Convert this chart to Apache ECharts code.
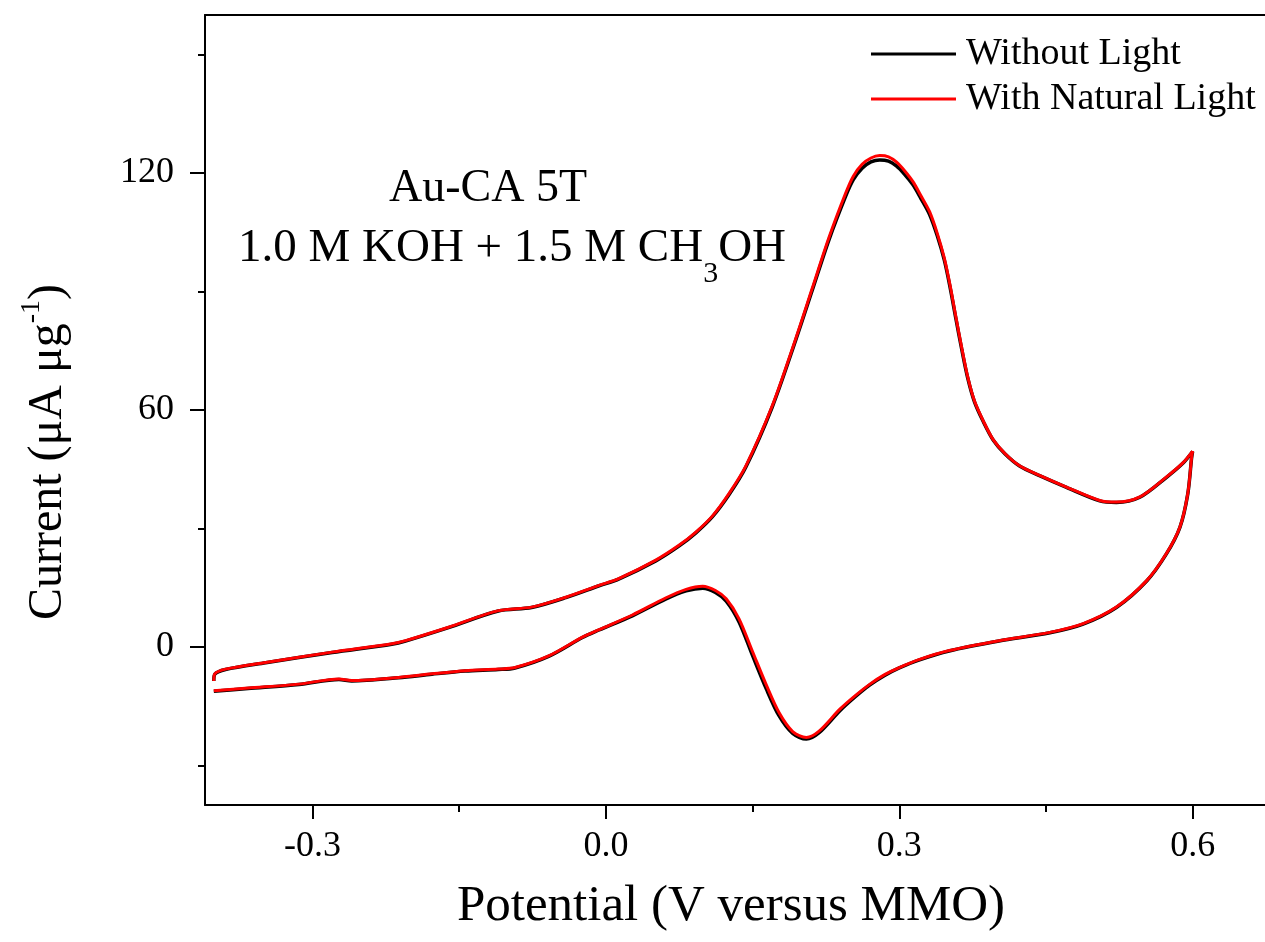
<!DOCTYPE html>
<html>
<head>
<meta charset="utf-8">
<script src="https://cdn.jsdelivr.net/npm/echarts@6/dist/echarts.min.js"></script>
<style>
html,body{margin:0;padding:0;background:#fff;}
#chart{width:1265px;height:942px;}
</style>
</head>
<body>
<div id="chart"></div>
<script>
// ---- data ----
const potentialFwd = [-0.401, -0.400, -0.389, -0.348, -0.280, -0.219, -0.205, -0.161, -0.110, -0.076, -0.041, -0.007, 0.013, 0.051, 0.075, 0.092, 0.109, 0.126, 0.143, 0.170, 0.194, 0.211, 0.228, 0.245, 0.253, 0.262, 0.271, 0.280, 0.289, 0.297, 0.305, 0.314, 0.322, 0.331, 0.339, 0.346, 0.352, 0.358, 0.364, 0.370, 0.377, 0.386, 0.396, 0.408, 0.423, 0.444, 0.471, 0.505, 0.522, 0.546, 0.573, 0.590, 0.600];
const currentFwdDark = [-8.6, -6.9, -5.7, -4.0, -1.4, 0.7, 1.5, 4.9, 9.1, 10.0, 12.5, 15.5, 17.2, 21.8, 25.6, 28.9, 33.0, 38.6, 45.5, 60.7, 77.6, 90.3, 103.0, 114.0, 118.3, 121.2, 122.8, 123.3, 123.0, 121.8, 119.8, 117.0, 113.6, 109.5, 104.0, 98.0, 91.0, 83.0, 75.2, 68.1, 62.0, 57.0, 52.4, 48.9, 45.8, 43.3, 40.4, 37.0, 36.6, 37.9, 42.9, 46.5, 49.5];
const currentFwdLight = [-8.6, -6.8, -5.6, -3.9, -1.3, 0.8, 1.6, 5.0, 9.2, 10.1, 12.6, 15.6, 17.3, 22.0, 25.8, 29.1, 33.2, 38.9, 45.8, 61.0, 78.0, 90.8, 103.6, 114.8, 119.2, 122.2, 123.8, 124.4, 124.1, 122.8, 120.7, 117.8, 114.3, 110.2, 104.6, 98.5, 91.5, 83.4, 75.6, 68.4, 62.2, 57.2, 52.5, 49.0, 45.9, 43.4, 40.5, 37.1, 36.7, 38.0, 43.0, 46.6, 49.6];

const potentialRev = [0.600, 0.599, 0.595, 0.587, 0.573, 0.553, 0.522, 0.488, 0.454, 0.402, 0.351, 0.320, 0.300, 0.285, 0.270, 0.255, 0.239, 0.218, 0.205, 0.191, 0.177, 0.164, 0.150, 0.136, 0.123, 0.112, 0.099, 0.082, 0.061, 0.027, -0.007, -0.024, -0.058, -0.093, -0.110, -0.144, -0.178, -0.212, -0.260, -0.273, -0.314, -0.366, -0.401];
const currentRevDark = [49.5, 48.0, 38.7, 30.3, 23.5, 16.7, 10.0, 5.8, 3.6, 1.5, -1.0, -3.3, -5.3, -7.2, -9.6, -12.6, -16.2, -21.7, -23.3, -21.9, -17.4, -10.6, -2.2, 6.4, 11.6, 13.8, 14.9, 14.2, 12.1, 7.9, 4.3, 2.4, -2.3, -5.3, -5.7, -6.1, -6.9, -7.8, -8.6, -8.2, -9.5, -10.5, -11.2];
const currentRevLight = [49.6, 48.1, 38.8, 30.4, 23.6, 16.8, 10.1, 5.9, 3.7, 1.6, -0.9, -3.2, -5.2, -7.0, -9.4, -12.3, -15.8, -21.3, -22.9, -21.4, -16.6, -9.6, -1.2, 7.2, 12.2, 14.3, 15.4, 14.6, 12.4, 8.1, 4.4, 2.5, -2.2, -5.2, -5.6, -6.0, -6.8, -7.7, -8.5, -8.1, -9.4, -10.4, -11.1];

const seriesNames = ['Without Light', 'With Natural Light'];
const xMajorTicks = [-0.3, 0.0, 0.3, 0.6];
const xMinorTicks = [-0.15, 0.15, 0.45];
const yMajorTicks = [0, 60, 120];
const yMinorTicks = [-30, 30, 90, 150];

// ---- build ----
const FONT = "'Liberation Serif', 'Times New Roman', serif";
const pairs = (xs, ys) => xs.map((x, i) => [x, ys[i]]);

function lineSeries(name, color, width, data, z) {
  return {
    name: name, type: 'line', data: data, showSymbol: false, symbol: 'none',
    smooth: 0.3, z: z,
    lineStyle: { color: color, width: width },
    itemStyle: { color: color },
    animation: false
  };
}

const chart = echarts.init(document.getElementById('chart'), null, { renderer: 'canvas' });

const option = {
  backgroundColor: '#ffffff',
  animation: false,
  grid: { left: 205, right: 0, top: 15, bottom: 137, show: false },
  legend: {
    data: seriesNames,
    orient: 'vertical',
    left: 866, top: 30,
    itemWidth: 85, itemHeight: 3, itemGap: 7,
    icon: 'rect',
    textStyle: { fontFamily: FONT, fontSize: 38, color: '#000', padding: [0, 0, 0, 5] }
  },
  xAxis: [
    {
      type: 'value', min: -0.41, max: 0.674, position: 'bottom',
      axisLine: { show: true, onZero: false, lineStyle: { color: '#000', width: 2 } },
      axisTick: { show: true, customValues: xMajorTicks, length: 14, inside: false, lineStyle: { color: '#000', width: 2 } },
      axisLabel: { show: true, customValues: xMajorTicks, formatter: v => v.toFixed(1), margin: 24,
        fontFamily: FONT, fontSize: 36, color: '#000' },
      splitLine: { show: false }
    },
    {
      type: 'value', min: -0.41, max: 0.674, position: 'bottom', offset: 0,
      axisLine: { show: false, onZero: false },
      axisTick: { show: true, customValues: xMinorTicks, length: 7, lineStyle: { color: '#000', width: 2 } },
      axisLabel: { show: false },
      splitLine: { show: false }
    },
    {
      type: 'value', min: -0.41, max: 0.674, position: 'top',
      axisLine: { show: true, onZero: false, lineStyle: { color: '#000', width: 2 } },
      axisTick: { show: false }, axisLabel: { show: false }, splitLine: { show: false }
    }
  ],
  yAxis: [
    {
      type: 'value', min: -40, max: 160, position: 'left',
      axisLine: { show: true, onZero: false, lineStyle: { color: '#000', width: 2 } },
      axisTick: { show: true, customValues: yMajorTicks, length: 15, lineStyle: { color: '#000', width: 2 } },
      axisLabel: { show: true, customValues: yMajorTicks, margin: 31, fontFamily: FONT, fontSize: 36, color: '#000' },
      splitLine: { show: false }
    },
    {
      type: 'value', min: -40, max: 160, position: 'left', offset: 0,
      axisLine: { show: false, onZero: false },
      axisTick: { show: true, customValues: yMinorTicks, length: 7, lineStyle: { color: '#000', width: 2 } },
      axisLabel: { show: false },
      splitLine: { show: false }
    }
  ],
  graphic: [
    {
      type: 'text', x: 488, y: 189, z: 10,
      style: { text: 'Au-CA 5T', fontFamily: FONT, fontSize: 46, fill: '#000', textAlign: 'center', textVerticalAlign: 'middle' }
    },
    {
      type: 'text', x: 512, y: 225, z: 10,
      style: {
        text: '{a|1.0 M KOH + 1.5 M CH}{s|3}{a|OH}',
        textAlign: 'center', textVerticalAlign: 'top',
        rich: {
          a: { fontFamily: FONT, fontSize: 47, lineHeight: 54, verticalAlign: 'top', fill: '#000' },
          s: { fontFamily: FONT, fontSize: 30, lineHeight: 30, padding: [34, 0, 0, 0], verticalAlign: 'top', fill: '#000' }
        }
      }
    },
    {
      type: 'text', x: 731, y: 907, z: 10,
      style: { text: 'Potential (V versus MMO)', fontFamily: FONT, fontSize: 51, fill: '#000', textAlign: 'center', textVerticalAlign: 'middle' }
    },
    {
      type: 'text', x: 45, y: 452, rotation: Math.PI / 2, z: 10,
      style: {
        text: '{m|Current (μA μg}{p|-1}{m|)}',
        textAlign: 'center', textVerticalAlign: 'middle',
        rich: {
          m: { fontFamily: FONT, fontSize: 48, lineHeight: 55, verticalAlign: 'bottom', fill: '#000' },
          p: { fontFamily: FONT, fontSize: 28, lineHeight: 28, verticalAlign: 'top', fill: '#000' }
        }
      }
    }
  ],
  series: [
    lineSeries(seriesNames[0], '#000000', 3.5, pairs(potentialFwd, currentFwdDark), 2),
    lineSeries(seriesNames[0], '#000000', 3.5, pairs(potentialRev, currentRevDark), 2),
    lineSeries(seriesNames[1], '#ff0000', 3, pairs(potentialFwd, currentFwdLight), 3),
    lineSeries(seriesNames[1], '#ff0000', 3, pairs(potentialRev, currentRevLight), 3)
  ]
};
chart.setOption(option);
</script>
</body>
</html>
